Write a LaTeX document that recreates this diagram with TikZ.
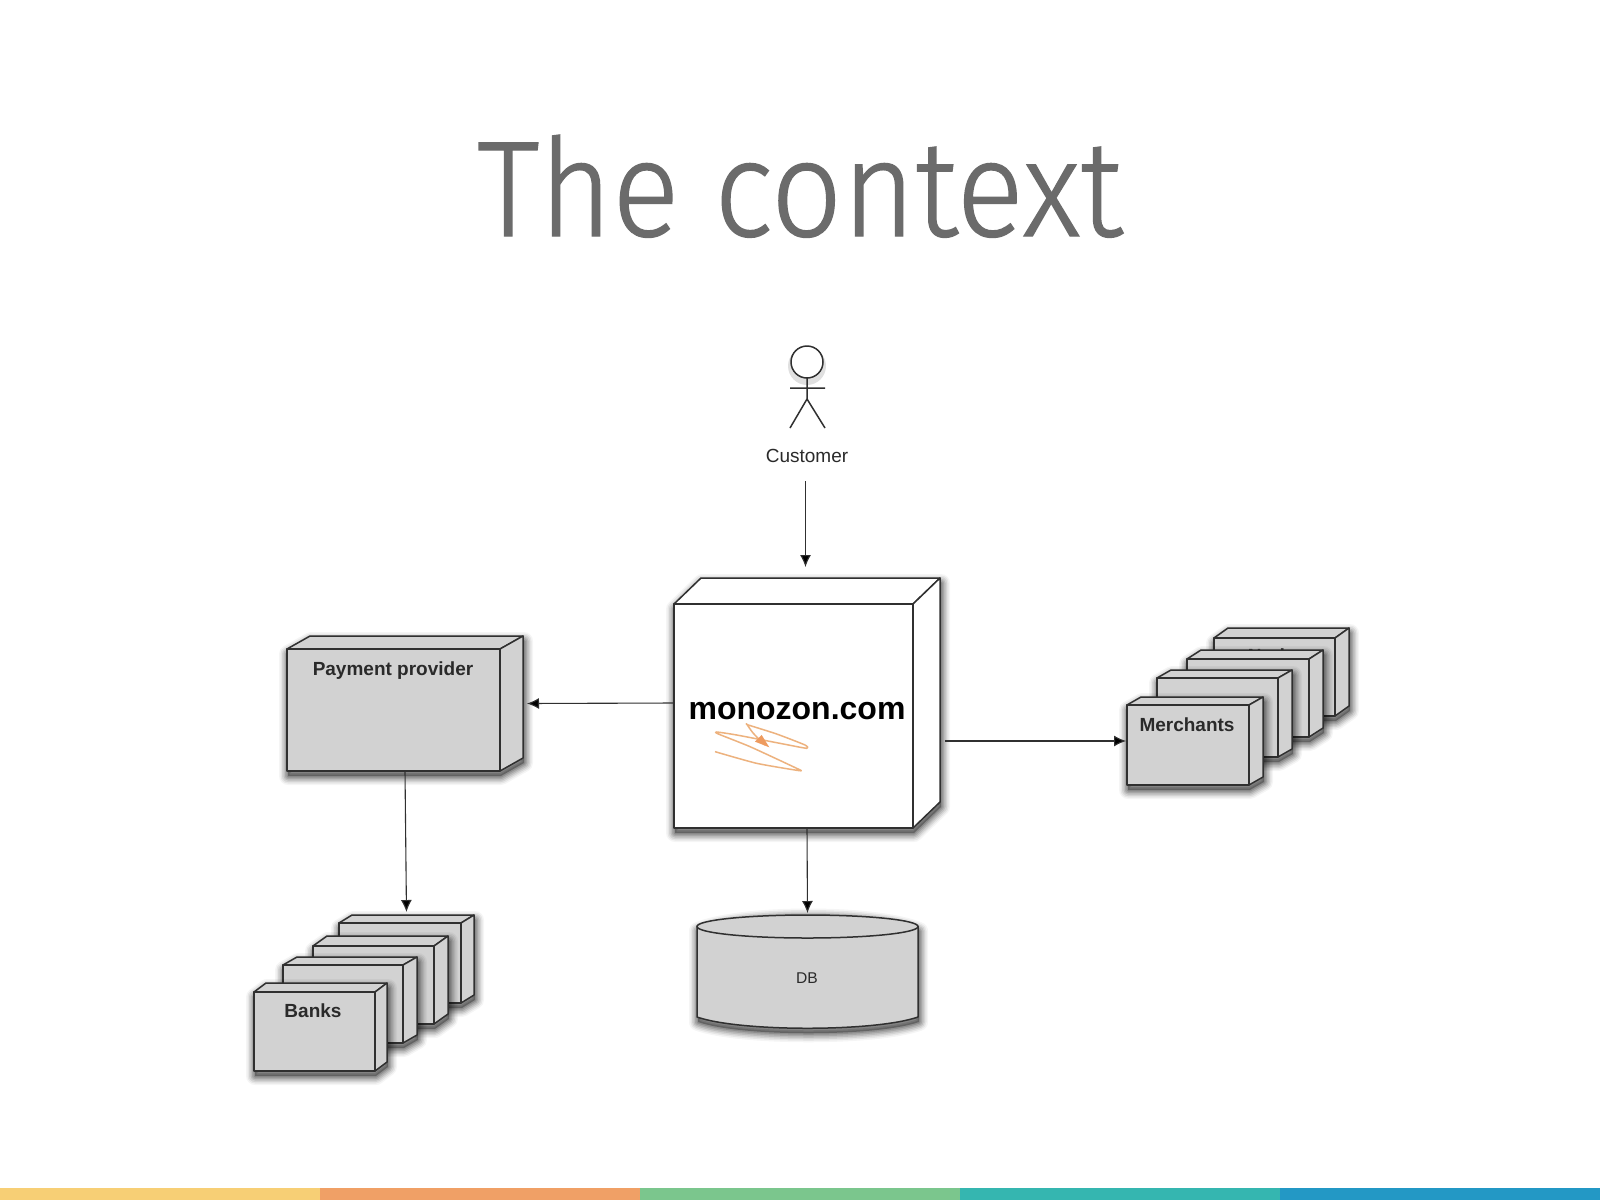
\documentclass[tikz,border=0pt]{standalone}
\usepackage{fontspec}
\setmainfont{Liberation Sans}
\newfontfamily\titlefont[UprightFont={* Light},UprightFeatures={FakeStretch=0.92,FakeBold=1}]{Fira Sans}
\usetikzlibrary{arrows.meta}
\definecolor{inkc}{HTML}{303030}
\definecolor{grayface}{HTML}{D2D2D2}
\definecolor{scrib}{HTML}{EDB27E}
\definecolor{scribtip}{HTML}{EE9B5F}
\definecolor{txtc}{HTML}{2A2A2A}
\definecolor{titlec}{HTML}{6B6B6B}
\definecolor{barA}{HTML}{F7CF75}
\definecolor{barB}{HTML}{F0A066}
\definecolor{barC}{HTML}{7BC68D}
\definecolor{barD}{HTML}{35B6B0}
\definecolor{barE}{HTML}{2398C5}
\tikzset{
  outline/.style={draw=inkc,line width=1.5pt,line join=round},
  conn/.style={draw=inkc,line width=1.1pt,-{Latex[length=12pt,width=11pt,fill=black]}},
  labelbold/.style={inner sep=0pt,text=txtc,font=\fontsize{19}{19}\selectfont\bfseries,anchor=base},
  labelreg/.style={inner sep=0pt,text=txtc,anchor=base},
  extent/.style={inner sep=0pt,outer sep=0pt,anchor=north west}
}
\newcommand{\softshadow}[1]{%
  \foreach \w/\o in {18/.04,15/.06,12/.08,9/.1,6/.12,3/.14}{
    \draw[black,opacity=\o,line width=\w pt,line join=round,xshift=1pt,yshift=-5pt] #1;
  }
  \fill[black,opacity=.3,xshift=1pt,yshift=-5pt] #1;
}
\newcommand{\cardbox}[8]{%
  \pgfmathsetmacro{\cbl}{#2}\pgfmathsetmacro{\cbt}{#3}\pgfmathsetmacro{\cbr}{#4}\pgfmathsetmacro{\cbb}{#5}
  \pgfmathsetmacro{\cbox}{#4+#6}\pgfmathsetmacro{\cboy}{#3-#7}\pgfmathsetmacro{\cbix}{#2+#6}\pgfmathsetmacro{\cbjy}{#5-#7}
  \softshadow{(\cbl,\cbt) -- (\cbix,\cboy) -- (\cbox,\cboy) -- (\cbox,\cbjy) -- (\cbr,\cbb) -- (\cbl,\cbb) -- cycle}
  \filldraw[outline,fill=#8] (\cbl,\cbt) -- (\cbix,\cboy) -- (\cbox,\cboy) -- (\cbr,\cbt) -- cycle;
  \filldraw[outline,fill=#8] (\cbr,\cbt) -- (\cbox,\cboy) -- (\cbox,\cbjy) -- (\cbr,\cbb) -- cycle;
  \filldraw[outline,fill=#8] (\cbl,\cbt) rectangle (\cbr,\cbb);
  \pgfmathsetmacro{\cbwd}{\cbox-\cbl}\pgfmathsetmacro{\cbht}{\cbb-\cboy}
  \node[extent,minimum width=\cbwd pt,minimum height=\cbht pt] (#1) at (\cbl,\cboy) {};
}
\begin{document}
\begin{tikzpicture}[x=1pt,y=-1pt]
\useasboundingbox (0,0) rectangle (1600,1200);
\fill[white] (0,0) rectangle (1600,1200);
% title
\node[inner sep=0pt,anchor=base,text=titlec,font=\titlefont\fontsize{136}{136}\selectfont] (title) at (800,236) {The context};
% bottom bar
\fill[barA] (0,1188) rectangle (320,1200);
\fill[barB] (320,1188) rectangle (640,1200);
\fill[barC] (640,1188) rectangle (960,1200);
\fill[barD] (960,1188) rectangle (1280,1200);
\fill[barE] (1280,1188) rectangle (1600,1200);
% customer
\fill[black,opacity=.12] (807,366) circle (19pt);
\filldraw[outline,fill=white] (807,362) circle (16pt);
\draw[outline] (807,378) -- (807,399) (790,388) -- (825,388) (790,428) -- (807,399) -- (825,428);
\node[labelreg,font=\fontsize{19}{19}\selectfont] (customer) at (807,462) {Customer};
% monozon
\cardbox{mono}{674}{604}{913}{828}{27}{26}{white}
\node[labelbold,text=black,font=\fontsize{32}{32}\selectfont\bfseries] (monotext) at (797,719) {monozon.com};
\begin{scope}[shift={(650,560)},x=0.3333pt,y=-0.3333pt]
\draw[scrib,line width=1.5pt,line join=round] plot[smooth,tension=.35] coordinates {(195,575) (320,610) (448,632) (440,625) (300,560) (205,522) (200,516) (260,525) (400,552) (470,565) (465,555) (380,522) (295,495) (290,492) (310,520) (345,555)};
\fill[scribtip] (315,545) -- (335,525) -- (358,562) -- cycle;
\end{scope}
% payment
\cardbox{pay}{287}{649}{500}{771}{23}{13}{grayface}
\node[labelbold] (paytext) at (393,675) {Payment provider};
% merchants stack
\cardbox{m4}{1214}{638}{1335}{716}{14}{10}{grayface}
\node[labelbold] (m4text) at (1277,662) {Nodes};
\cardbox{m3}{1187}{659}{1309}{737}{14}{9}{grayface}
\cardbox{m2}{1157}{678}{1278}{757}{14}{8}{grayface}
\cardbox{merch}{1127}{705}{1249}{785}{14}{8}{grayface}
\node[labelbold] (merchtext) at (1187,731) {Merchants};
% banks stack
\cardbox{b4}{339}{923}{461}{1003}{13}{8}{grayface}
\cardbox{b3}{313}{946}{434}{1024}{14}{10}{grayface}
\cardbox{b2}{283}{965}{403}{1043}{14}{8}{grayface}
\cardbox{banks}{254}{992}{375}{1071}{12}{9}{grayface}
\node[labelbold] (bankstext) at (313,1017) {Banks};
% DB
\softshadow{(697,926) -- (697,1017) .. controls (740,1032) and (875,1032) .. (918,1017) -- (918,926) .. controls (875,908) and (740,908) .. (697,926) -- cycle}
\filldraw[outline,fill=grayface] (697,926) -- (697,1017) .. controls (740,1032) and (875,1032) .. (918,1017) -- (918,926) -- cycle;
\filldraw[outline,fill=grayface] (807.5,926.5) ellipse[x radius=110.5,y radius=11.5];
\node[inner sep=0pt,outer sep=0pt,minimum width=221pt,minimum height=113pt,anchor=north] (db) at (807.5,915) {};
\node[labelreg,font=\fontsize{15.6}{16}\selectfont] (dbtext) at (807,983) {DB};
% connectors
\draw[conn,shorten >=11pt] ([xshift=-1.5pt,yshift=-19pt]customer.south) -- ([xshift=-1.5pt]mono.north);
\draw[conn,shorten >=4pt] (mono.west) -- (pay.east);
\draw[conn] ([xshift=5pt,yshift=-38pt]mono.east) -- ([xshift=-1pt]merch.west);
\draw[conn,shorten >=2pt] (mono.south) -- (db.north);
\draw[conn,shorten >=3pt] (pay.south) -- (b4.north);
\end{tikzpicture}
\end{document}
